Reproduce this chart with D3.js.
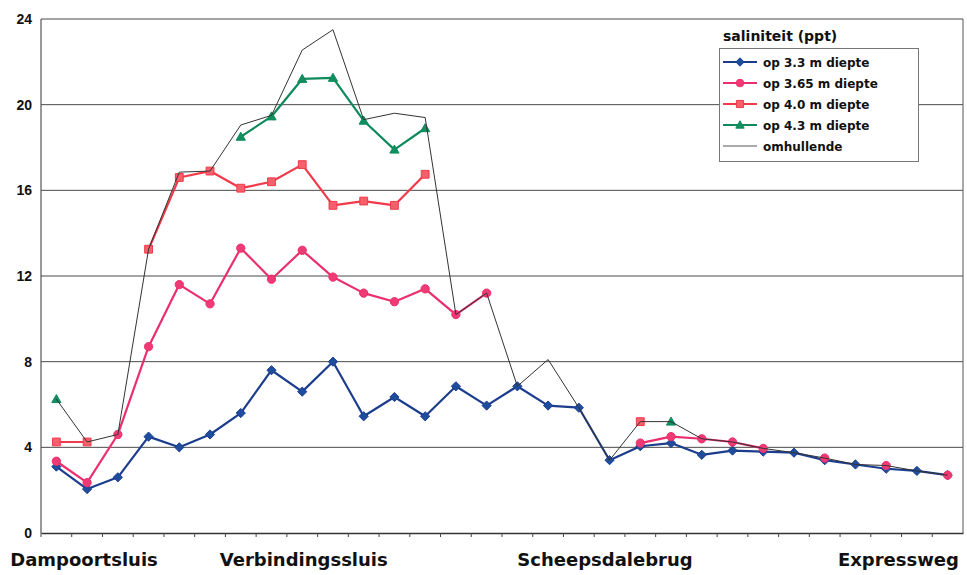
<!DOCTYPE html>
<html>
<head>
<meta charset="utf-8">
<script src="https://cdn.jsdelivr.net/npm/d3@7"></script>
<style>
  html, body { margin: 0; padding: 0; background: #fff; }
  svg { display: block; }
</style>
</head>
<body>
<svg id="chart" width="967" height="575"></svg>
<script>
// Salinity (ppt) along the canal, 30 measuring stations, at four depths
const stations = d3.range(30);

const d33  = [3.1, 2.05, 2.6, 4.5, 4.0, 4.6, 5.6, 7.6, 6.6, 8.0, 5.45, 6.35, 5.45, 6.85, 5.95, 6.85, 5.95, 5.85, 3.4, 4.05, 4.2, 3.65, 3.85, 3.8, 3.75, 3.4, 3.2, 3.0, 2.9, 2.7];
const d365 = [3.35, 2.35, 4.6, 8.7, 11.6, 10.7, 13.3, 11.85, 13.2, 11.95, 11.2, 10.8, 11.4, 10.2, 11.2, null, null, null, null, 4.2, 4.5, 4.4, 4.25, 3.95, null, 3.5, null, 3.15, null, 2.7];
const d40  = [4.25, 4.25, null, 13.25, 16.6, 16.9, 16.1, 16.4, 17.2, 15.3, 15.5, 15.3, 16.75, null, null, null, null, null, null, 5.2, null, null, null, null, null, null, null, null, null, null];
const d43  = [6.25, null, null, null, null, null, 18.5, 19.45, 21.2, 21.25, 19.25, 17.9, 18.9, null, null, null, null, null, null, null, 5.2, null, null, null, null, null, null, null, null, null];
const envelope = [6.25, 4.25, 4.6, 13.25, 16.85, 16.9, 19.05, 19.5, 22.55, 23.5, 19.3, 19.6, 19.4, 10.2, 11.2, 6.85, 8.1, 5.85, 3.4, 5.2, 5.2, 4.4, 4.25, 3.95, 3.75, 3.5, 3.2, 3.15, 2.9, 2.7];

const yTicks = [0, 4, 8, 12, 16, 20, 24];

// place names along the x axis, anchored at a (fractional) station index
const placeNames = ["Dampoortsluis", "Verbindingssluis", "Scheepsdalebrug", "Expressweg"];
const placeAt    = [0.9, 8.05, 17.85, 27.4];

const legendTitle = "saliniteit (ppt)";
const seriesNames = ["op 3.3 m diepte", "op 3.65 m diepte", "op 4.0 m diepte", "op 4.3 m diepte", "omhullende"];

const series = [
  { name: seriesNames[0], values: d33,  color: "#1c3d8e", fill: "#1f4d9e", marker: "diamond" },
  { name: seriesNames[1], values: d365, color: "#ec2f6c", fill: "#f03a75", marker: "circle" },
  { name: seriesNames[2], values: d40,  color: "#f03a4a", fill: "#f65f6c", marker: "square" },
  { name: seriesNames[3], values: d43,  color: "#0f8a5c", fill: "#109060", marker: "triangle" },
  { name: seriesNames[4], values: envelope, color: "#333", marker: null, thin: true }
];

const svg = d3.select("#chart");
const plotL = 41, plotR = 963, plotT = 19, plotB = 533;

const x = d3.scaleBand().domain(stations).range([plotL, plotR]);
const xc = i => x(i) + x.bandwidth() / 2;
const xPos = d3.scaleLinear().domain([0, 1]).range([xc(0), xc(1)]);
const y = d3.scaleLinear().domain([0, 24]).range([plotB, plotT]);

// horizontal gridlines
svg.append("g")
  .selectAll("line")
  .data(yTicks.filter(t => t > 0))
  .join("line")
  .attr("x1", plotL).attr("x2", plotR)
  .attr("y1", d => y(d)).attr("y2", d => y(d))
  .attr("stroke", "#4a4a4a").attr("stroke-width", 1);

// plot frame (left axis and right edge)
svg.append("line").attr("x1", plotL).attr("x2", plotL).attr("y1", plotT).attr("y2", plotB)
  .attr("stroke", "#555").attr("stroke-width", 1.2);
svg.append("line").attr("x1", plotR).attr("x2", plotR).attr("y1", plotT).attr("y2", plotB)
  .attr("stroke", "#555").attr("stroke-width", 1);

// y axis labels
const yAxis = d3.axisLeft(y).tickValues(yTicks).tickSize(0).tickPadding(9).tickFormat(d3.format("d"));
const gy = svg.append("g").attr("transform", `translate(${plotL},0)`).call(yAxis);
gy.select(".domain").remove();
gy.selectAll("text")
  .attr("font-family", "'Liberation Sans', Arial, sans-serif")
  .attr("font-weight", "bold").attr("font-size", 14).attr("fill", "#111");

// x axis with ticks between the stations
const xAxis = d3.axisBottom(x).tickSize(0).tickFormat("");
const gx = svg.append("g").attr("transform", `translate(0,${plotB})`).call(xAxis);
gx.select(".domain").attr("stroke", "#333").attr("stroke-width", 1.3);
gx.selectAll(".tick").remove();
gx.selectAll(".sep")
  .data(stations)
  .join("line")
  .attr("class", "sep")
  .attr("x1", d => x(d)).attr("x2", d => x(d))
  .attr("y1", 0).attr("y2", 4)
  .attr("stroke", "#444").attr("stroke-width", 1);

// place names
svg.append("g")
  .selectAll("text")
  .data(placeNames)
  .join("text")
  .attr("x", (d, i) => xPos(placeAt[i]))
  .attr("y", 566)
  .attr("text-anchor", "middle")
  .attr("font-family", "'DejaVu Sans', Verdana, sans-serif")
  .attr("font-weight", "bold").attr("font-size", 18).attr("fill", "#111")
  .text(d => d);

// marker shapes
function markerPath(kind, s) {
  switch (kind) {
    case "diamond": return `M0,${-s}L${s},0L0,${s}L${-s},0Z`;
    case "square": return `M${-s * 0.85},${-s * 0.85}h${s * 1.7}v${s * 1.7}h${-s * 1.7}Z`;
    case "triangle": return `M0,${-s}L${s},${s * 0.75}L${-s},${s * 0.75}Z`;
    default: return null;
  }
}
function drawMarker(g, kind, s, color, fill) {
  if (kind === "circle") {
    g.append("circle").attr("r", s * 0.9).attr("fill", fill).attr("stroke", color).attr("stroke-width", 1);
  } else if (kind) {
    g.append("path").attr("d", markerPath(kind, s)).attr("fill", fill).attr("stroke", color).attr("stroke-width", 1);
  }
}

const line = d3.line()
  .defined(d => d.v !== null)
  .x(d => xc(d.i))
  .y(d => y(d.v));

series.forEach(s => {
  const pts = s.values.map((v, i) => ({ i, v }));
  const g = svg.append("g");
  g.append("path")
    .datum(pts)
    .attr("d", line)
    .attr("fill", "none")
    .attr("stroke", s.color)
    .attr("stroke-width", s.thin ? 1 : 2.2)
    .attr("stroke-linejoin", "round");
  if (s.marker) {
    pts.filter(d => d.v !== null).forEach(d => {
      const mg = g.append("g").attr("transform", `translate(${xc(d.i)},${y(d.v)})`);
      drawMarker(mg, s.marker, 4.6, s.color, s.fill);
    });
  }
});

// legend
const lg = svg.append("g");
lg.append("text")
  .attr("x", 723).attr("y", 41)
  .attr("font-family", "'DejaVu Sans', Verdana, sans-serif")
  .attr("font-weight", "bold").attr("font-size", 14).attr("fill", "#111")
  .text(legendTitle);
lg.append("rect")
  .attr("x", 719.5).attr("y", 48.5).attr("width", 199).attr("height", 113)
  .attr("fill", "#fff").attr("stroke", "#777").attr("stroke-width", 1);
series.forEach((s, k) => {
  const cy = 62 + k * 21;
  const row = lg.append("g");
  row.append("line")
    .attr("x1", 723).attr("x2", 757).attr("y1", cy).attr("y2", cy)
    .attr("stroke", s.thin ? "#555" : s.color).attr("stroke-width", s.thin ? 1 : 2.2);
  if (s.marker) {
    const mg = row.append("g").attr("transform", `translate(740,${cy})`);
    drawMarker(mg, s.marker, 4.2, s.color, s.fill);
  }
  row.append("text")
    .attr("x", 763).attr("y", cy + 4.5)
    .attr("font-family", "'DejaVu Sans', Verdana, sans-serif")
    .attr("font-weight", "bold").attr("font-size", 12).attr("fill", "#111")
    .text(s.name);
});
</script>
</body>
</html>
